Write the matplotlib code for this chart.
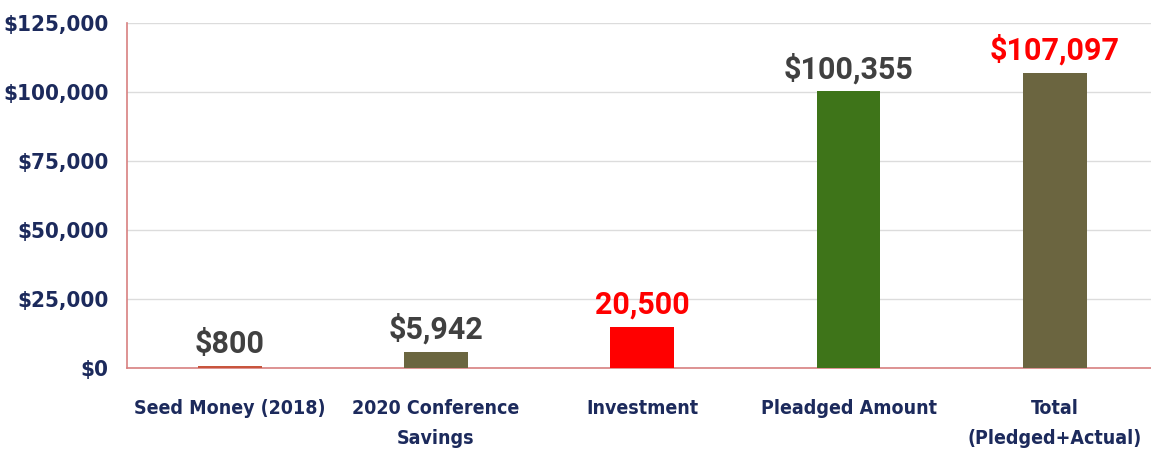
"""Fundraising summary bar chart."""
import matplotlib
matplotlib.use("Agg")
import matplotlib.pyplot as plt
from matplotlib.ticker import FuncFormatter

categories = ["Seed Money (2018)", "2020 Conference\nSavings", "Investment",
              "Pleadged Amount", "Total\n(Pledged+Actual)"]
values = [800, 5942, 15000, 100355, 107097]
value_labels = ["$800", "$5,942", "20,500", "$100,355", "$107,097"]
label_colors = ["#404040", "#404040", "#ff0000", "#404040", "#ff0000"]
bar_colors = ["#c8553d", "#6b6640", "#ff0000", "#3e7419", "#6b6540"]
y_ticks = [0, 25000, 50000, 75000, 100000, 125000]

NAVY = "#1c2a5c"

fig = plt.figure(figsize=(11.51, 4.58), dpi=100)
ax = fig.add_axes([0.110, 0.1965, 0.896, 0.753])

x = range(len(categories))
bars = ax.bar(x, values, width=0.31, color=bar_colors, zorder=3)

for b, txt, col in zip(bars, value_labels, label_colors):
    ax.annotate(txt, (b.get_x() + b.get_width() / 2, b.get_height()),
                xytext=(0, 5), textcoords="offset points",
                ha="center", va="bottom", fontsize=22, fontweight="bold",
                color=col, family="Roboto")

ax.set_xlim(-0.5, len(categories) - 0.5)
ax.set_ylim(0, 125000)
ax.set_yticks(y_ticks)
ax.yaxis.set_major_formatter(FuncFormatter(lambda v, _: f"${v:,.0f}"))
ax.set_xticks(list(x))
ax.set_xticklabels(categories)

tick_font = dict(family="DejaVu Sans", fontstretch="condensed",
                 fontweight="bold", color=NAVY)
for lab in ax.get_yticklabels():
    lab.set(fontsize=16, **tick_font)
for lab in ax.get_xticklabels():
    lab.set(fontsize=14, linespacing=1.75, **tick_font)

ax.tick_params(axis="y", length=0, pad=13)
ax.tick_params(axis="x", length=0, pad=22)

ax.grid(axis="y", color="#dcdcdc", linewidth=1, zorder=0)
for side in ("top", "right"):
    ax.spines[side].set_visible(False)
for side in ("left", "bottom"):
    ax.spines[side].set_color("#d88080")
    ax.spines[side].set_linewidth(1.2)

fig.savefig("out.png", dpi=100)
plt.close(fig)
